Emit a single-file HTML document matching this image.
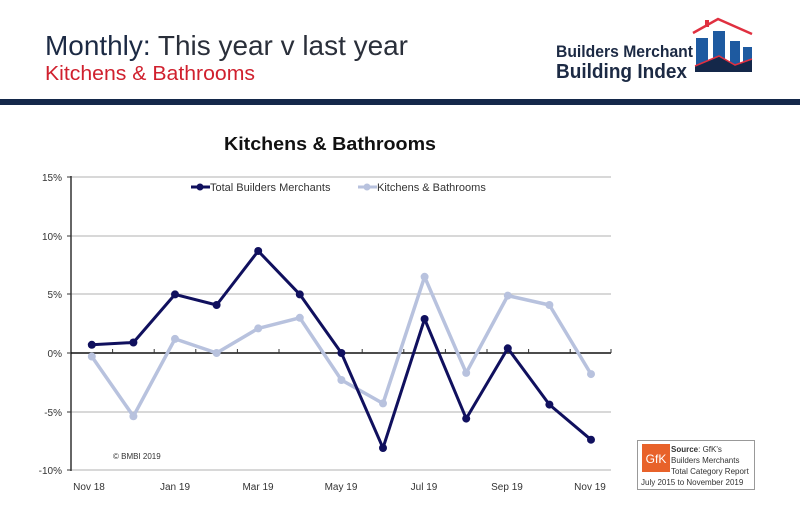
<!DOCTYPE html>
<html><head><meta charset="utf-8"><style>
body{margin:0;width:800px;height:508px;background:#fff;overflow:hidden;font-family:"Liberation Sans",sans-serif}
</style></head><body>
<svg width="800" height="508" xmlns="http://www.w3.org/2000/svg" font-family="Liberation Sans, sans-serif">
<text x="45" y="55" font-size="28" fill="#1c2a44" textLength="363" lengthAdjust="spacingAndGlyphs">Monthly: <tspan fill="#2a2f3a">This year v last year</tspan></text>
<text x="45" y="80" font-size="20" fill="#d0202e" textLength="210" lengthAdjust="spacingAndGlyphs">Kitchens &amp; Bathrooms</text>
<rect x="0" y="99" width="800" height="6" fill="#14284a"/>
<!-- logo -->
<text x="556" y="57" font-size="17" font-weight="bold" fill="#1c2a44" textLength="137" lengthAdjust="spacingAndGlyphs">Builders Merchant</text>
<text x="556" y="78" font-size="20" font-weight="bold" fill="#1c2a44" textLength="131" lengthAdjust="spacingAndGlyphs">Building Index</text>
<rect x="696" y="38" width="12" height="32" fill="#1e5aa0"/>
<rect x="713" y="31" width="12" height="39" fill="#1e5aa0"/>
<rect x="730" y="41" width="10" height="29" fill="#1e5aa0"/>
<rect x="743" y="47" width="9" height="23" fill="#1e5aa0"/>
<polygon points="695,66 719,56 735,65 752,59 752,72 695,72" fill="#14284a"/>
<polyline points="695,66 719,56 735,65 752,59" fill="none" stroke="#e03040" stroke-width="1.5"/>
<polyline points="693,33 718,19 752,34" fill="none" stroke="#e03040" stroke-width="2.5"/>
<rect x="705" y="20" width="4" height="7" fill="#e03040"/>
<!-- chart -->
<text x="224" y="150" font-size="18" font-weight="bold" fill="#111" textLength="212" lengthAdjust="spacingAndGlyphs">Kitchens &amp; Bathrooms</text>
<g stroke="#b0b0b0" stroke-width="1">
<line x1="71" y1="177" x2="611" y2="177"/><line x1="71" y1="236" x2="611" y2="236"/>
<line x1="71" y1="294" x2="611" y2="294"/><line x1="71" y1="412" x2="611" y2="412"/>
<line x1="71" y1="470" x2="611" y2="470"/>
</g>
<line x1="71" y1="176" x2="71" y2="471" stroke="#333" stroke-width="1.5"/>
<line x1="71" y1="353" x2="611" y2="353" stroke="#111" stroke-width="1.5"/>
<g stroke="#333" stroke-width="1">
<line x1="67" y1="177" x2="71" y2="177"/><line x1="67" y1="236" x2="71" y2="236"/><line x1="67" y1="294" x2="71" y2="294"/><line x1="67" y1="353" x2="71" y2="353"/><line x1="67" y1="412" x2="71" y2="412"/><line x1="67" y1="470" x2="71" y2="470"/>
<path d="M112.6 349v4M154.2 349v4M195.8 349v4M237.4 349v4M279 349v4M320.6 349v4M362.2 349v4M403.8 349v4M445.4 349v4M487 349v4M528.6 349v4M570.2 349v4M611 349v4"/>
</g>
<g font-size="10" fill="#333" text-anchor="end">
<text x="62" y="181">15%</text><text x="62" y="240">10%</text><text x="62" y="298">5%</text><text x="62" y="357">0%</text><text x="62" y="416">-5%</text><text x="62" y="474">-10%</text>
</g>
<g font-size="10" fill="#333" text-anchor="middle">
<text x="89" y="490">Nov 18</text><text x="175" y="490">Jan 19</text><text x="258" y="490">Mar 19</text><text x="341" y="490">May 19</text><text x="424" y="490">Jul 19</text><text x="507" y="490">Sep 19</text><text x="590" y="490">Nov 19</text>
</g>
<polyline fill="none" stroke="#b8c2de" stroke-width="3.5" stroke-linejoin="round" points="91.8,356.5 133.4,416.3 175,338.9 216.6,353 258.2,328.4 299.8,317.8 341.4,380 383,403.4 424.6,276.8 466.2,372.9 507.8,295.6 549.4,305 591,374.1"/>
<g fill="#b8c2de"><circle cx="91.8" cy="356.5" r="4"/><circle cx="133.4" cy="416.3" r="4"/><circle cx="175" cy="338.9" r="4"/><circle cx="216.6" cy="353" r="4"/><circle cx="258.2" cy="328.4" r="4"/><circle cx="299.8" cy="317.8" r="4"/><circle cx="341.4" cy="380" r="4"/><circle cx="383" cy="403.4" r="4"/><circle cx="424.6" cy="276.8" r="4"/><circle cx="466.2" cy="372.9" r="4"/><circle cx="507.8" cy="295.6" r="4"/><circle cx="549.4" cy="305" r="4"/><circle cx="591" cy="374.1" r="4"/></g>
<polyline fill="none" stroke="#10105e" stroke-width="3" stroke-linejoin="round" points="91.8,344.8 133.4,342.5 175,294.4 216.6,305 258.2,251 299.8,294.4 341.4,353 383,448 424.6,319 466.2,418.6 507.8,348.3 549.4,404.6 591,439.7"/>
<g fill="#10105e"><circle cx="91.8" cy="344.8" r="4"/><circle cx="133.4" cy="342.5" r="4"/><circle cx="175" cy="294.4" r="4"/><circle cx="216.6" cy="305" r="4"/><circle cx="258.2" cy="251" r="4"/><circle cx="299.8" cy="294.4" r="4"/><circle cx="341.4" cy="353" r="4"/><circle cx="383" cy="448" r="4"/><circle cx="424.6" cy="319" r="4"/><circle cx="466.2" cy="418.6" r="4"/><circle cx="507.8" cy="348.3" r="4"/><circle cx="549.4" cy="404.6" r="4"/><circle cx="591" cy="439.7" r="4"/></g>
<!-- legend -->
<line x1="191" y1="187" x2="210" y2="187" stroke="#10105e" stroke-width="3"/><circle cx="200" cy="187" r="3.5" fill="#10105e"/>
<text x="210" y="191" font-size="11" fill="#333">Total Builders Merchants</text>
<line x1="358" y1="187" x2="377" y2="187" stroke="#b8c2de" stroke-width="3"/><circle cx="367" cy="187" r="3.5" fill="#b8c2de"/>
<text x="377" y="191" font-size="11" fill="#333">Kitchens &amp; Bathrooms</text>
<text x="113" y="459" font-size="8" fill="#333">© BMBI 2019</text>
<!-- source box -->
<rect x="637.5" y="440.5" width="117" height="49" fill="#fff" stroke="#999"/>
<rect x="642" y="444" width="28" height="28" fill="#e8622a"/>
<text x="656" y="463" font-size="12" fill="#fff" text-anchor="middle">GfK</text>
<text x="671" y="452" font-size="8" fill="#333"><tspan font-weight="bold">Source</tspan>: GfK's</text>
<text x="671" y="463" font-size="8" fill="#333">Builders Merchants</text>
<text x="671" y="474" font-size="8" fill="#333">Total Category Report</text>
<text x="641" y="485" font-size="8" fill="#333">July 2015 to November 2019</text>
</svg>
</body></html>
